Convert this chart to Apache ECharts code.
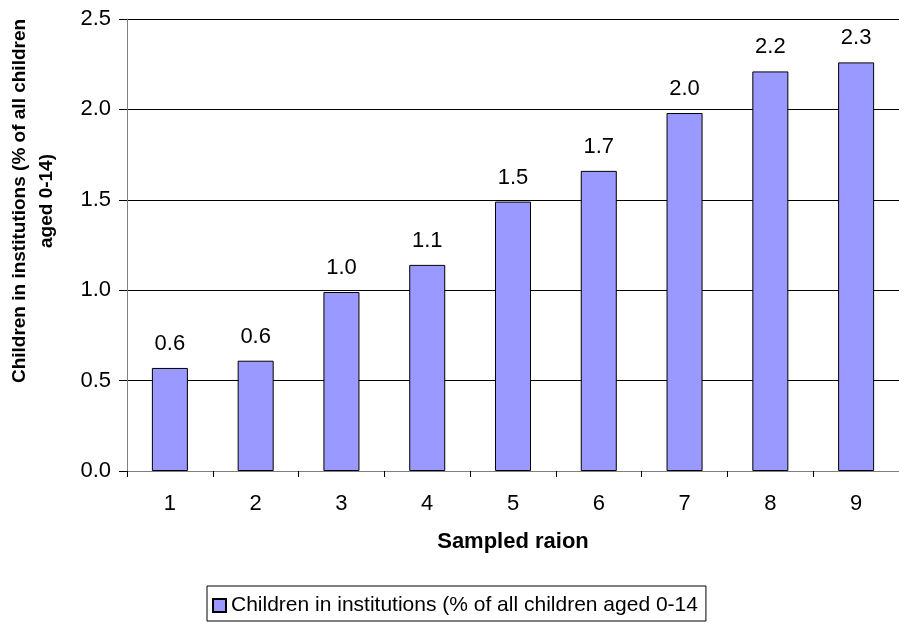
<!DOCTYPE html>
<html>
<head>
<meta charset="utf-8">
<script src="https://cdn.jsdelivr.net/npm/echarts@6/dist/echarts.min.js"></script>
<style>
    html, body { margin: 0; padding: 0; background: #fff; }
    #chart { width: 899px; height: 624px; }
</style>
</head>
<body>
<div id="chart"></div>
<script>
var raions = ['1', '2', '3', '4', '5', '6', '7', '8', '9'];
var shareInInstitutions = [0.57, 0.61, 0.99, 1.14, 1.49, 1.66, 1.98, 2.21, 2.26];
var seriesName = 'Children in institutions (% of all children aged 0-14';
var yTitle = 'Children in institutions (% of all children\naged 0-14)';
var xTitle = 'Sampled raion';

var fontName = '"Liberation Sans", Arial, sans-serif';

var chart = echarts.init( document.getElementById( 'chart' ), null, { renderer: 'canvas' } );
var option = {
    animation: false,
    backgroundColor: '#ffffff',
    grid: {
        left: 127,
        top: 19,
        bottom: 153,
        right: -7
    },
    legend: {
        left: 207,
        top: 586,
        data: [seriesName],
        icon: 'rect',
        itemWidth: 13,
        itemHeight: 13,
        itemGap: 5,
        padding: [9, 8, 5, 5],
        borderColor: '#000',
        borderWidth: 1,
        textStyle: {
            color: '#000',
            fontSize: 21,
            fontFamily: fontName
        }
    },
    // rotated two-line axis title, placed like the original
    graphic: [{
        type: 'text',
        x: 33,
        y: 201,
        rotation: Math.PI / 2,
        style: {
            text: yTitle,
            align: 'center',
            verticalAlign: 'middle',
            fontSize: 19,
            fontWeight: 'bold',
            fontFamily: fontName,
            lineHeight: 27,
            fill: '#000'
        }
    }],
    xAxis: {
        type: 'category',
        data: raions,
        name: xTitle,
        nameLocation: 'middle',
        nameGap: 60,
        nameTextStyle: {
            color: '#000',
            fontSize: 22,
            fontWeight: 'bold',
            fontFamily: fontName
        },
        axisLine: { lineStyle: { color: '#808080', width: 1 } },
        axisTick: { show: true, length: 6, lineStyle: { color: '#000' } },
        axisLabel: {
            color: '#000',
            fontSize: 22,
            fontFamily: fontName,
            margin: 22
        },
        splitLine: { show: false }
    },
    yAxis: {
        type: 'value',
        min: 0,
        max: 2.5,
        interval: 0.5,
        axisLine: { show: true, lineStyle: { color: '#808080', width: 1 } },
        axisTick: { show: true, length: 8, lineStyle: { color: '#000' } },
        axisLabel: {
            color: '#000',
            fontSize: 22,
            fontFamily: fontName,
            margin: 16,
            formatter: function ( v ) {
                return v.toFixed( 1 )
            }
        },
        splitLine: { show: true, lineStyle: { color: '#000', width: 1 } }
    },
    series: [{
        name: seriesName,
        type: 'bar',
        data: shareInInstitutions,
        barCategoryGap: '58%',
        itemStyle: {
            color: '#9999ff',
            borderColor: '#000',
            borderWidth: 1
        },
        label: {
            show: true,
            position: 'top',
            distance: 13,
            color: '#000',
            fontSize: 22,
            fontFamily: fontName,
            formatter: function ( params ) {
                return params.value.toFixed( 1 )
            }
        }
    }]
};
chart.setOption( option );
</script>
</body>
</html>
